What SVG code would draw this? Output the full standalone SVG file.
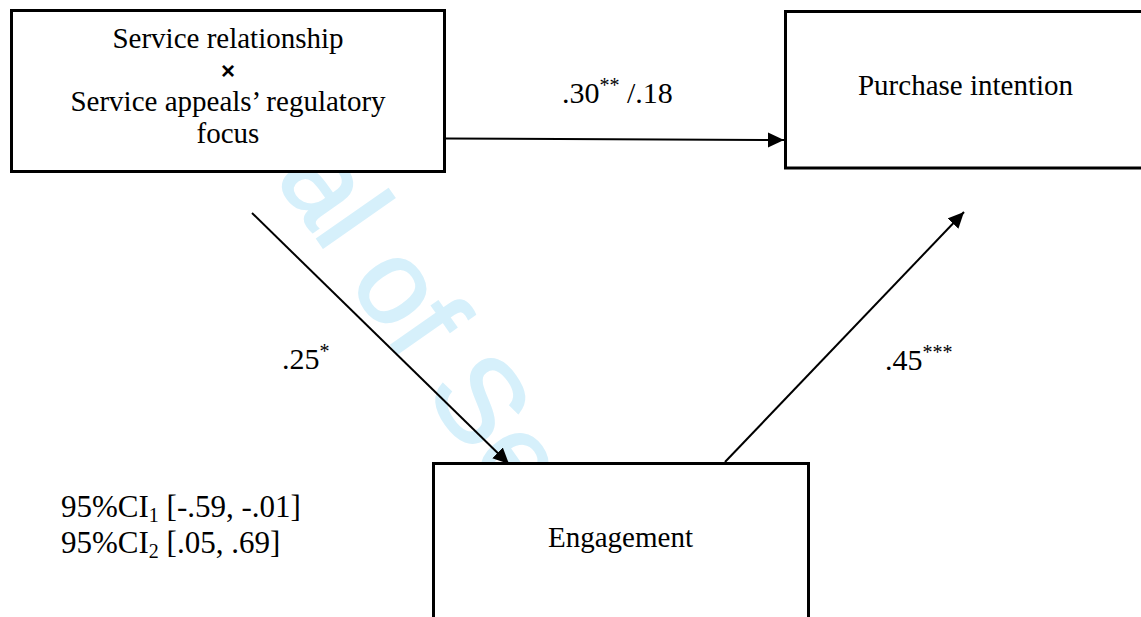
<svg xmlns="http://www.w3.org/2000/svg" width="1141" height="617" viewBox="0 0 1141 617">
<style>
.box{fill:#fff;stroke:#000;stroke-width:3}
.t{font-family:"Liberation Serif","Times New Roman",serif;font-size:29px;fill:#000}
.lbl{font-family:"Liberation Serif","Times New Roman",serif;font-size:30px;fill:#000}
.ci{font-family:"Liberation Serif","Times New Roman",serif;font-size:31px;fill:#000}
.wm{font-family:"Liberation Sans",Arial,sans-serif;font-size:120px;fill:#d6f0fb;stroke:#d6f0fb;stroke-width:2}
.conn{stroke:#000;stroke-width:2;fill:none}
</style>
<defs>
<marker id="ah" markerUnits="userSpaceOnUse" markerWidth="18" markerHeight="16" refX="16" refY="8" orient="auto">
<path d="M0,0.5 L16,8 L0,15.5 Z" fill="#000"/>
</marker>
</defs>
<rect width="1141" height="617" fill="#fff"/>
<g id="watermark">
<text class="wm" transform="translate(236,123) rotate(55)">nal of Se</text>
</g>
<g id="node-interaction">
<rect class="box" x="11.5" y="10.5" width="433" height="161"/>
<text class="t" x="228" y="48" text-anchor="middle">Service relationship</text>
<text x="228" y="79" text-anchor="middle" style="font-family:'Liberation Sans',Arial,sans-serif;font-size:24px;font-weight:bold">×</text>
<text class="t" x="228" y="111" text-anchor="middle">Service appeals’ regulatory</text>
<text class="t" x="228" y="143" text-anchor="middle">focus</text>
</g>
<g id="node-purchase">
<rect class="box" x="785.5" y="11.5" width="380" height="156.5"/>
<text class="t" x="965.5" y="95" text-anchor="middle">Purchase intention</text>
</g>
<g id="node-engagement">
<rect class="box" x="433.5" y="463.5" width="375" height="200"/>
<text class="t" x="620.5" y="547" text-anchor="middle">Engagement</text>
</g>
<g id="connectors">
<line class="conn" x1="446" y1="138.5" x2="784" y2="140" marker-end="url(#ah)"/>
<line class="conn" x1="252" y1="213" x2="509" y2="464" marker-end="url(#ah)"/>
<line class="conn" x1="725" y1="462" x2="964" y2="212" marker-end="url(#ah)"/>
</g>
<g id="labels">
<text class="lbl" x="562" y="103">.30<tspan font-size="20" dy="-11">**</tspan><tspan dy="11"> /.18</tspan></text>
<text class="lbl" x="282" y="369">.25<tspan font-size="20" dy="-11">*</tspan></text>
<text class="lbl" x="885" y="370">.45<tspan font-size="20" dy="-11">***</tspan></text>
<text class="ci" x="61" y="517">95%CI<tspan font-size="20" dy="5">1</tspan><tspan dy="-5"> [-.59, -.01]</tspan></text>
<text class="ci" x="61" y="553">95%CI<tspan font-size="20" dy="5">2</tspan><tspan dy="-5"> [.05, .69]</tspan></text>
</g>
</svg>
